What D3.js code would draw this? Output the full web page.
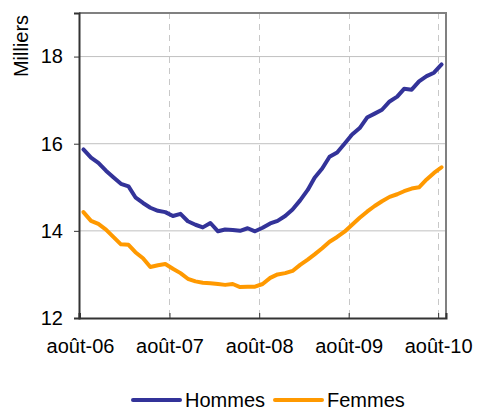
<!DOCTYPE html>
<html>
<head>
<meta charset="utf-8">
<script src="https://cdn.jsdelivr.net/npm/d3@7"></script>
<style>
  body { margin: 0; background: #fff; }
  svg text { font-family: "Liberation Sans", Arial, sans-serif; fill: #000; }
</style>
</head>
<body>
<div id="container"></div>
<script>
const width = 481;
const height = 412;

// données mensuelles (milieu de mois), août 2006 -> août 2010
const months = d3.range(49).map(i => new Date(2006, 7 + i, 15));
const hommes = [15.87, 15.68, 15.56, 15.38, 15.23, 15.08, 15.02, 14.77, 14.64, 14.53,
  14.46, 14.43, 14.34, 14.39, 14.22, 14.14, 14.08, 14.18, 13.99, 14.03,
  14.02, 14.00, 14.06, 13.99, 14.07, 14.17, 14.23, 14.34, 14.49, 14.70,
  14.94, 15.22, 15.43, 15.70, 15.80, 16.00, 16.21, 16.36, 16.60, 16.69,
  16.78, 16.97, 17.08, 17.26, 17.24, 17.43, 17.55, 17.63, 17.82];
const femmes = [14.43, 14.23, 14.16, 14.03, 13.86, 13.69, 13.68, 13.51, 13.37, 13.17,
  13.21, 13.24, 13.13, 13.03, 12.90, 12.84, 12.81, 12.80, 12.78, 12.76,
  12.78, 12.71, 12.72, 12.72, 12.78, 12.92, 13.00, 13.03, 13.08, 13.22,
  13.34, 13.46, 13.60, 13.75, 13.86, 13.98, 14.14, 14.30, 14.44, 14.57,
  14.68, 14.78, 14.84, 14.91, 14.97, 15.00, 15.18, 15.33, 15.46];
const xTicks = [new Date(2006, 7, 1), new Date(2007, 7, 1), new Date(2008, 7, 1),
  new Date(2009, 7, 1), new Date(2010, 7, 1)];
const xLabels = ["août-06", "août-07", "août-08", "août-09", "août-10"];
const yTicks = [12, 14, 16, 18];
const series = [
  { name: "Hommes", values: hommes, color: "#333399" },
  { name: "Femmes", values: femmes, color: "#FF9900" }
];

const margin = { top: 13, right: 35, bottom: 94, left: 79 };
const innerW = width - margin.left - margin.right;
const innerH = height - margin.top - margin.bottom;

const svg = d3.select('#container').append('svg')
  .attr('width', width)
  .attr('height', height);

const x = d3.scaleTime()
  .domain([new Date(2006, 6, 28), new Date(2010, 8, 2)])
  .range([0, innerW]);
const y = d3.scaleLinear()
  .domain([12, 19])
  .range([innerH, 0]);

const g = svg.append('g')
  .attr('transform', `translate(${margin.left},${margin.top})`);

// grille horizontale
g.selectAll('line.hgrid')
  .data(yTicks.slice(1))
  .enter().append('line')
  .attr('class', 'hgrid')
  .attr('x1', 0).attr('x2', innerW)
  .attr('y1', d => y(d)).attr('y2', d => y(d))
  .attr('stroke', '#c0c0c0')
  .attr('stroke-width', 1);

// grille verticale en pointillés
g.selectAll('line.vgrid')
  .data(xTicks.slice(1))
  .enter().append('line')
  .attr('class', 'vgrid')
  .attr('x1', d => Math.round(x(d)) + 0.5).attr('x2', d => Math.round(x(d)) + 0.5)
  .attr('y1', 0).attr('y2', innerH)
  .attr('stroke', '#c8c8c8')
  .attr('stroke-width', 1)
  .attr('stroke-dasharray', '6,5');

// cadre haut / droite
g.append('path')
  .attr('d', `M0,0H${innerW}V${innerH}`)
  .attr('fill', 'none')
  .attr('stroke', '#808080')
  .attr('stroke-width', 2);

// courbes
const line = d3.line()
  .x((d, i) => x(months[i]))
  .y(d => y(d));

g.selectAll('path.serie')
  .data(series)
  .enter().append('path')
  .attr('class', 'serie')
  .attr('d', d => line(d.values))
  .attr('fill', 'none')
  .attr('stroke', d => d.color)
  .attr('stroke-width', 4)
  .attr('stroke-linejoin', 'round')
  .attr('stroke-linecap', 'round');

// axe Y
const yAxis = d3.axisLeft(y)
  .tickValues(yTicks)
  .tickSize(5)
  .tickPadding(11)
  .tickFormat(d3.format('d'));
const yg = g.append('g').call(yAxis);
yg.select('.domain').attr('stroke', '#333').attr('stroke-width', 2);
yg.selectAll('.tick line').attr('stroke', '#333');
yg.selectAll('.tick text').style('font-size', '20px');

// axe X (graduations vers l'intérieur)
const xAxis = d3.axisBottom(x)
  .tickValues(xTicks)
  .tickSize(-5)
  .tickPadding(21)
  .tickFormat((d, i) => xLabels[i]);
const xg = g.append('g')
  .attr('transform', `translate(0,${innerH})`)
  .call(xAxis);
xg.select('.domain').attr('stroke', '#333').attr('stroke-width', 2);
xg.selectAll('.tick line').attr('stroke', '#333');
xg.selectAll('.tick text').style('font-size', '20px');

// titre axe Y
svg.append('text')
  .attr('transform', `translate(${28},${46}) rotate(-90)`)
  .attr('text-anchor', 'middle')
  .style('font-size', '20px')
  .text('Milliers');

// légende
const legend = svg.append('g')
  .attr('transform', `translate(${133},${400})`);
const item = legend.selectAll('g.item')
  .data(series)
  .enter().append('g')
  .attr('class', 'item')
  .attr('transform', (d, i) => `translate(${i * 142},0)`);
item.append('line')
  .attr('x1', 0).attr('x2', 47)
  .attr('y1', 0).attr('y2', 0)
  .attr('stroke', d => d.color)
  .attr('stroke-width', 4)
  .attr('stroke-linecap', 'round');
item.append('text')
  .attr('x', 52)
  .attr('y', 7)
  .style('font-size', '20px')
  .text(d => d.name);
</script>
</body>
</html>
